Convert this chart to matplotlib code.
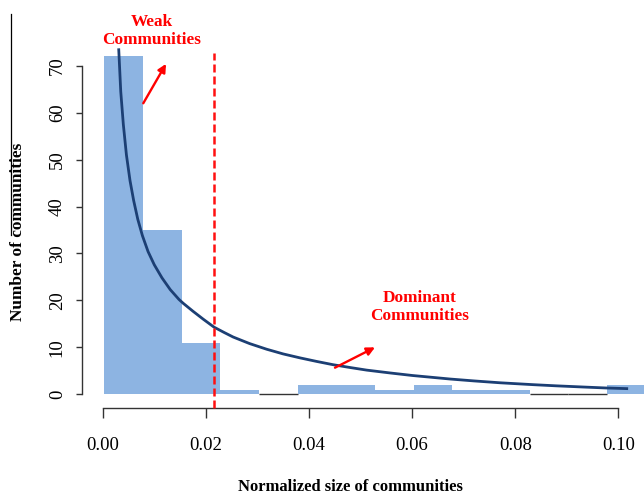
import matplotlib
matplotlib.use("Agg")
import matplotlib.pyplot as plt
from matplotlib.lines import Line2D

plt.rcParams['font.family'] = ['Liberation Serif', 'DejaVu Serif']

# ---- data ----
bin_edges = [0.0003, 0.0078, 0.0153, 0.0228, 0.0303, 0.0378, 0.0453, 0.0528,
             0.0603, 0.0678, 0.0753, 0.0828, 0.0903, 0.0978, 0.1053]
counts = [72, 35, 11, 1, 0, 2, 2, 1, 2, 1, 1, 0, 0, 2]

fit_x = [0.0031, 0.0035, 0.0040, 0.0046, 0.0053, 0.0060, 0.0068, 0.0077, 0.0088,
         0.0100, 0.0115, 0.0131, 0.0148, 0.0156, 0.0175, 0.0195, 0.0216, 0.0235,
         0.0253, 0.0285, 0.0318, 0.0350, 0.0383, 0.0415, 0.0447, 0.0480, 0.0512,
         0.0557, 0.0601, 0.0640, 0.0674, 0.0720, 0.0771, 0.0835, 0.0880, 0.0932,
         0.0975, 0.1019]
fit_y = [73.7, 64.5, 57.5, 51.0, 45.5, 41.3, 37.3, 33.8, 30.4,
         27.6, 24.8, 22.3, 20.2, 19.4, 17.7, 16.0, 14.3, 13.2,
         12.2, 10.8, 9.6, 8.6, 7.75, 7.0, 6.3, 5.7, 5.15,
         4.55, 4.0, 3.6, 3.25, 2.85, 2.45, 2.05, 1.8, 1.55,
         1.35, 1.2]

threshold = 0.0216
x_ticks = [0.00, 0.02, 0.04, 0.06, 0.08, 0.10]
x_tick_labels = ['0.00', '0.02', '0.04', '0.06', '0.08', '0.10']
y_ticks = [0, 10, 20, 30, 40, 50, 60, 70]

weak_label = "Weak\nCommunities"
dominant_label = "Dominant\nCommunities"
xlabel = "Normalized size of communities"
ylabel = "Number of communities"

# ---- figure ----
W, H = 644, 494
fig = plt.figure(figsize=(W / 100, H / 100), dpi=100)
ax = fig.add_axes([82 / W, (H - 408) / H, (W - 82) / W, (408 - 40) / H])
ax.set_xlim(-0.004015, 0.10498)
ax.set_ylim(-2.92, 75.48)

widths = [bin_edges[i + 1] - bin_edges[i] for i in range(len(counts))]
bar_color = '#8DB4E2'
for left, w, c in zip(bin_edges[:-1], widths, counts):
    if c > 0:
        ax.bar(left, c, width=w, align='edge', color=bar_color, edgecolor='none',
               clip_on=False, zorder=2)
    else:
        ax.bar(left, c, width=w, align='edge', color=bar_color, edgecolor='#333333',
               linewidth=1.0, zorder=2)

ax.plot(fit_x, fit_y, color='#1C3F74', lw=2.0, zorder=3,
        solid_capstyle='butt', solid_joinstyle='round')

ax.vlines(threshold, -2.92, 72.7, colors='#FF1010', linestyles=(0, (3.2, 1.6)),
          lw=1.8, zorder=4, clip_on=False)

# annotations
ax.annotate('', xy=(0.01228, 70.4), xytext=(0.00787, 62.0),
            arrowprops=dict(arrowstyle='-|>', color='red', lw=1.7,
                            mutation_scale=12, shrinkA=0, shrinkB=0),
            zorder=5, annotation_clip=False)
ax.annotate('', xy=(0.05281, 10.0), xytext=(0.04505, 5.67),
            arrowprops=dict(arrowstyle='-|>', color='red', lw=1.7,
                            mutation_scale=12, shrinkA=0, shrinkB=0),
            zorder=5, annotation_clip=False)
ax.text(0.00956, 77.35, weak_label, color='red', fontsize=12.4, fontweight='bold',
        ha='center', va='center', linespacing=1.2, clip_on=False)
ax.text(0.06139, 18.56, dominant_label, color='red', fontsize=12.4, fontweight='bold',
        ha='center', va='center', linespacing=1.2)

# axes styling (R-like detached axes)
for s in ['top', 'right']:
    ax.spines[s].set_visible(False)
ax.spines['left'].set_bounds(0, 70)
ax.spines['bottom'].set_bounds(0, 0.10)
ax.spines['left'].set_color('#333333')
ax.spines['bottom'].set_color('#333333')
ax.spines['left'].set_linewidth(1.0)
ax.spines['bottom'].set_linewidth(1.0)

ax.set_xticks(x_ticks)
ax.set_xticklabels(x_tick_labels)
ax.set_yticks(y_ticks)
ax.set_yticklabels([str(v) for v in y_ticks], rotation=90, va='center')
ax.tick_params(axis='x', length=7.2, width=1.0, color='#333333', labelsize=13.5, pad=14)
ax.tick_params(axis='y', length=4.6, width=1.0, color='#333333', labelsize=13.5, pad=7)

fig.text(350.5 / W, 1 - 487 / H, xlabel, fontsize=12, fontweight='bold',
         ha='center', va='center')
fig.text(18.5 / W, 1 - 231.5 / H, ylabel, fontsize=12.4, fontweight='bold',
         ha='center', va='center', rotation=90)

fig.add_artist(Line2D([10.5 / W, 10.5 / W], [1 - 14 / H, 1 - 235 / H],
                      color='black', lw=0.9))

fig.savefig('out.png', dpi=100)
